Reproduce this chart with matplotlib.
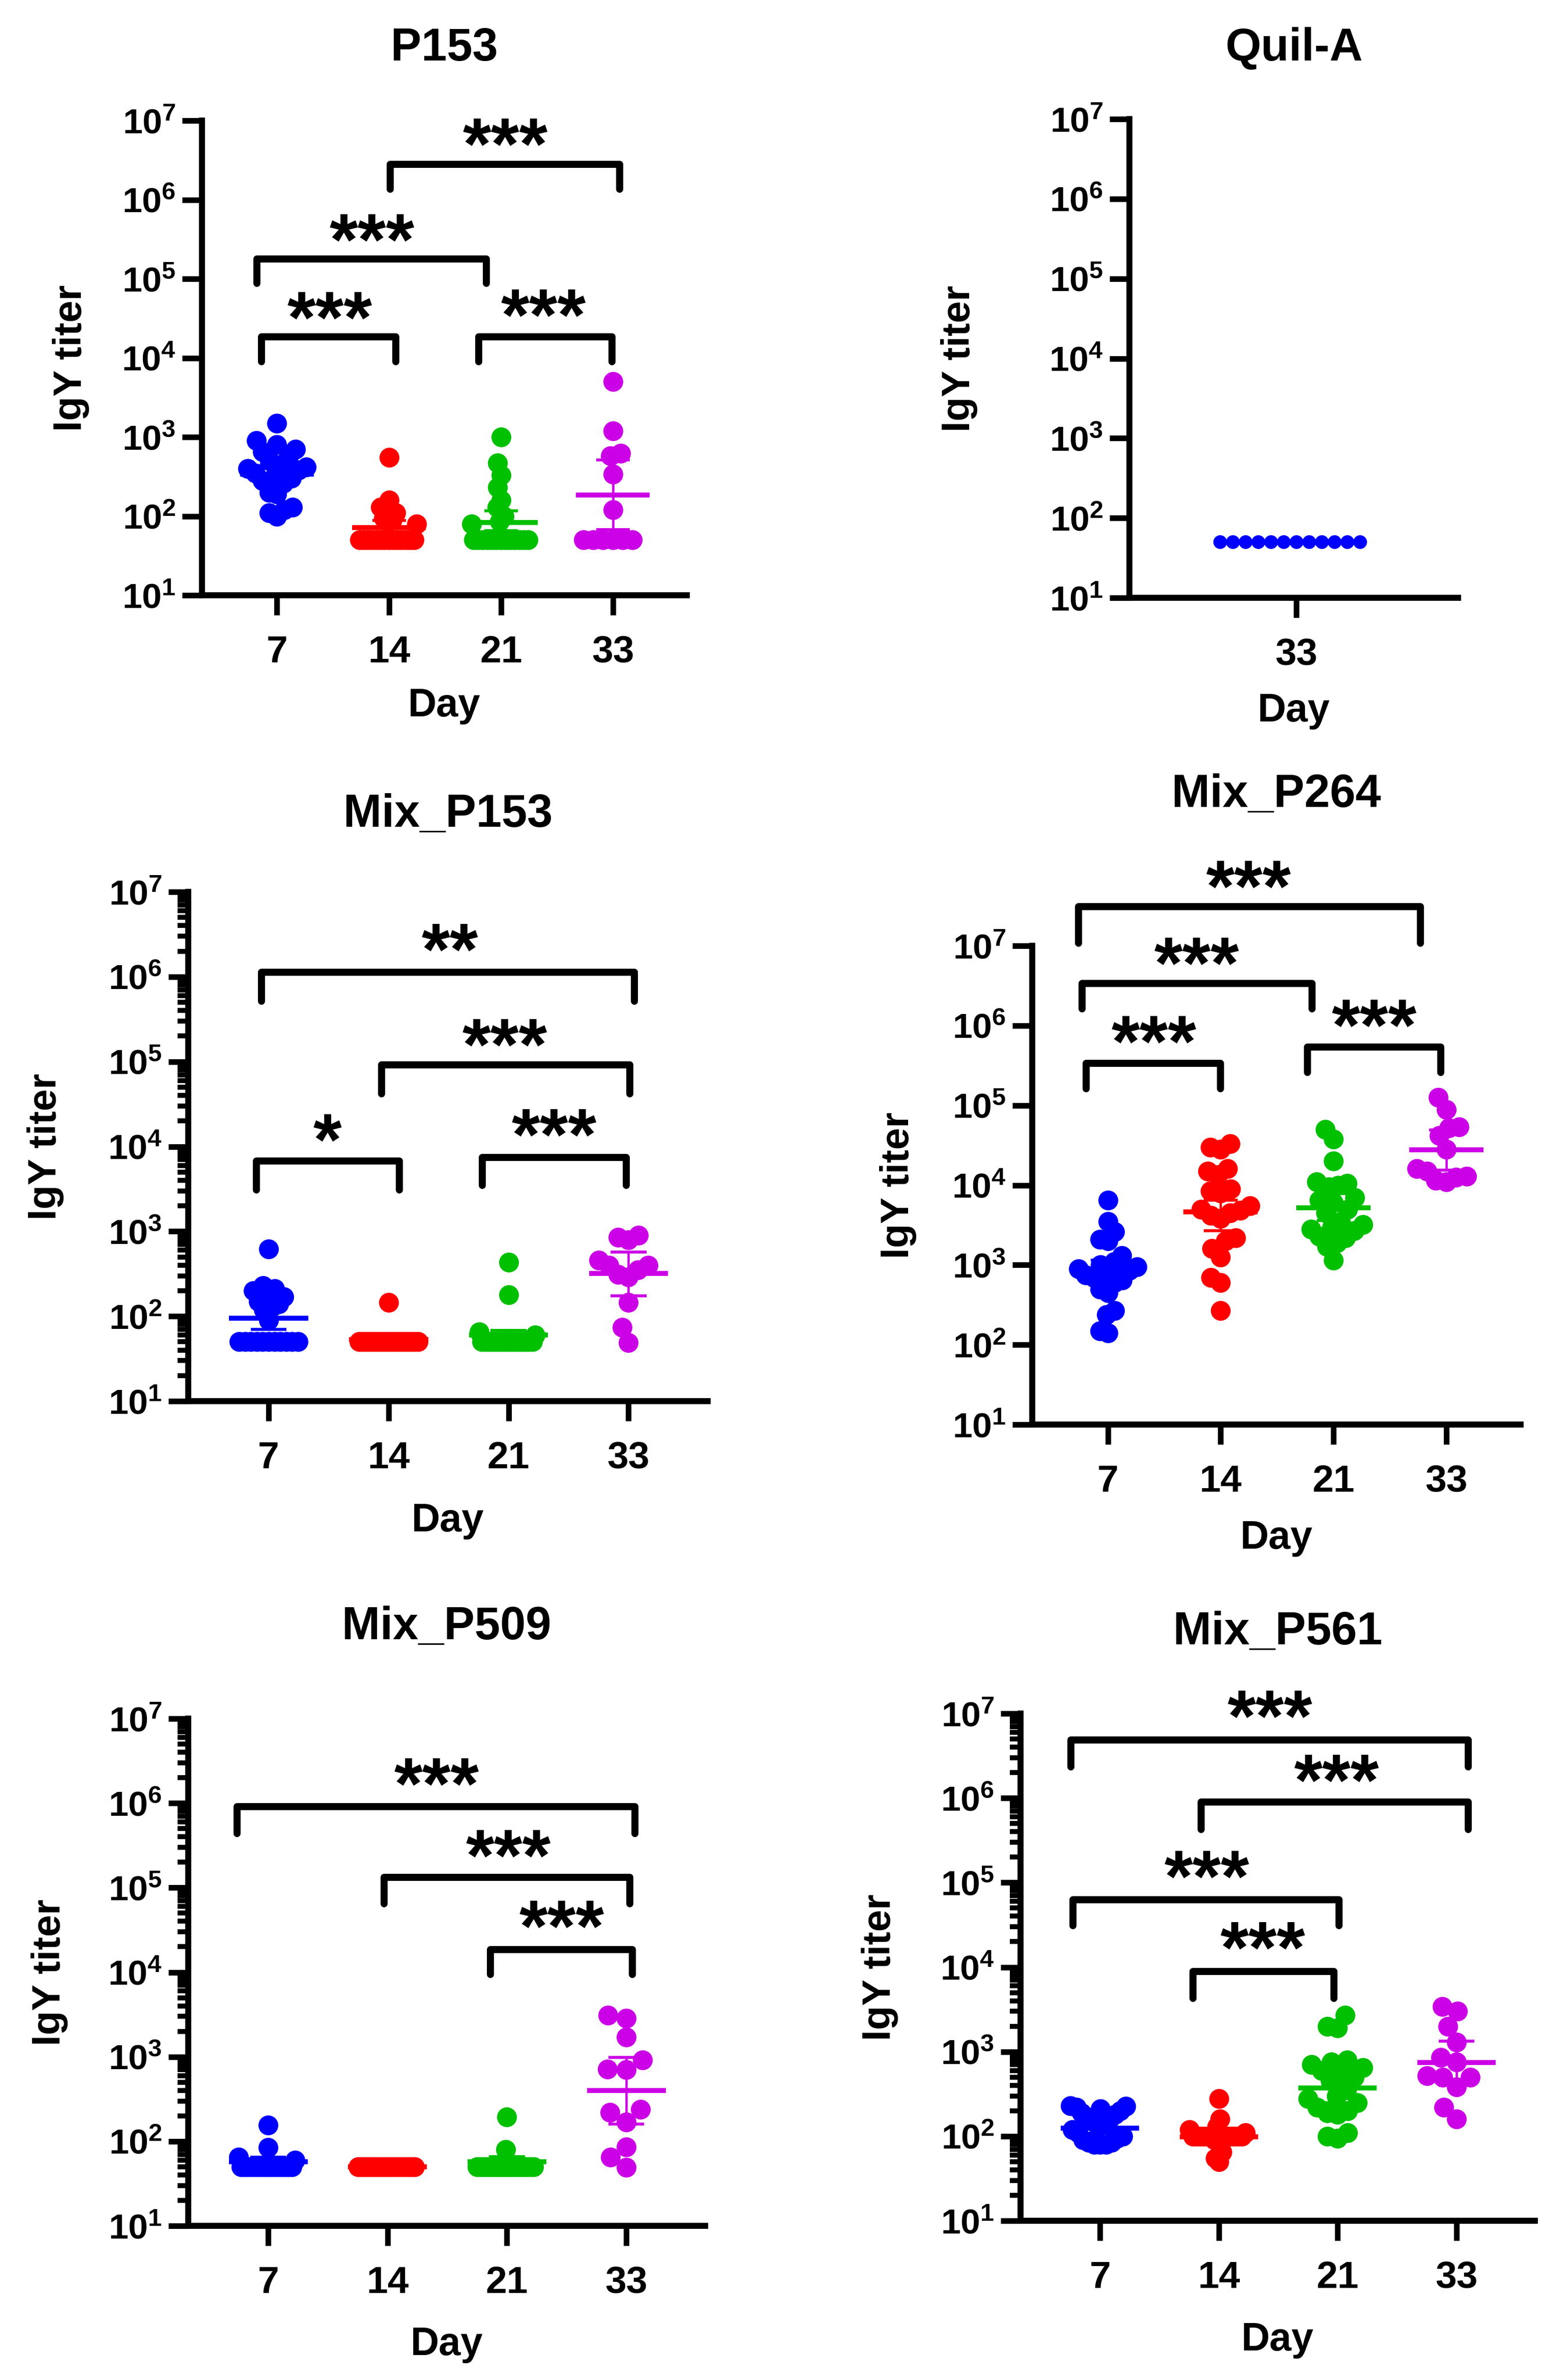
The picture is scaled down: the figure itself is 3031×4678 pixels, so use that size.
import numpy as np
import matplotlib
matplotlib.use('Agg')
import matplotlib.pyplot as plt
from matplotlib.ticker import FixedLocator, LogLocator, NullFormatter
from matplotlib.textpath import TextPath
from matplotlib.font_manager import FontProperties

plt.rcParams['font.family'] = ['Liberation Sans', 'DejaVu Sans']
plt.rcParams['font.weight'] = 'bold'
plt.rcParams['mathtext.fontset'] = 'custom'
plt.rcParams['mathtext.rm'] = 'Liberation Sans:bold'
plt.rcParams['mathtext.it'] = 'Liberation Sans:bold'
plt.rcParams['mathtext.bf'] = 'Liberation Sans:bold'

W, H, DPI = 3031, 4678, 100

days = ['7', '14', '21', '33']
colors = ['#0000FF', '#FF0000', '#00C000', '#CC00E6']

# --- IgY titres (one list per day) ---
p153_d7 = [1500, 900, 800, 700, 650, 550, 500, 450, 420, 400, 380, 350, 320, 300, 280, 260, 200, 190, 130, 120, 110, 100]
p153_d14 = [550, 160, 130, 110, 95, 90, 85, 80, 50, 50, 50, 50, 50, 50, 50, 50, 50, 50, 50, 50, 50, 50]
p153_d21 = [1000, 470, 330, 230, 160, 130, 100, 85, 80, 50, 50, 50, 50, 50, 50, 50, 50, 50, 50, 50, 50, 50]
p153_d33 = [5000, 1200, 620, 580, 340, 120, 50, 50, 50, 50, 50, 50]
p153_mean = [340, 72, 83, 185]
p153_lo = [265, 59, 66, 68]
p153_hi = [440, 88, 117, 510]

quil_d33 = [50, 50, 50, 50, 50, 50, 50, 50, 50, 50, 50, 50]

mp153_d7 = [620, 230, 210, 200, 180, 170, 150, 140, 130, 120, 90, 50, 50, 50, 50, 50, 50, 50, 50, 50, 50, 50]
mp153_d14 = [145, 50, 50, 50, 50, 50, 50, 50, 50, 50, 50, 50, 50, 50, 50, 50, 50, 50, 50, 50, 50, 50]
mp153_d21 = [430, 180, 65, 60, 50, 50, 50, 50, 50, 50, 50, 50, 50, 50, 50, 50, 50, 50, 50, 50, 50, 50]
mp153_d33 = [900, 850, 800, 460, 400, 400, 350, 310, 290, 145, 74, 49]
mp153_mean = [95, 53, 60, 320]
mp153_lo = [70, 50, 53, 175]
mp153_hi = [128, 57, 68, 570]

mp264_d7 = [6500, 3500, 2600, 2100, 2000, 1300, 1100, 1000, 950, 900, 850, 800, 750, 700, 650, 600, 500, 450, 270, 240, 150, 140]
mp264_d14 = [33000, 30000, 28000, 16000, 15000, 13500, 9000, 8500, 8000, 5500, 5000, 4800, 4500, 4200, 3800, 2200, 2000, 1600, 1250, 700, 600, 270]
mp264_d21 = [50000, 38000, 20000, 11000, 10500, 10000, 9500, 7000, 6500, 6000, 5000, 4500, 3500, 3200, 3000, 2800, 2700, 2300, 2200, 1900, 1700, 1150]
mp264_d33 = [126000, 89000, 54000, 52000, 42000, 28000, 16000, 15000, 13000, 12500, 11500, 11000]
mp264_mean = [850, 4600, 5200, 27700]
mp264_lo = [620, 2700, 3600, 15500]
mp264_hi = [1150, 6500, 7900, 49000]

mp509_d7 = [155, 85, 65, 60, 50, 50, 50, 50, 50, 50, 50, 50, 50, 50, 50, 50, 50, 50, 50, 50, 50, 50]
mp509_d14 = [50, 50, 50, 50, 50, 50, 50, 50, 50, 50, 50, 50, 50, 50, 50, 50, 50, 50, 50, 50, 50, 50]
mp509_d21 = [195, 80, 50, 50, 50, 50, 50, 50, 50, 50, 50, 50, 50, 50, 50, 50, 50, 50, 50, 50, 50, 50]
mp509_d33 = [3100, 2850, 1700, 910, 710, 700, 240, 220, 170, 86, 65, 49]
mp509_mean = [57, 50, 57, 400]
mp509_lo = [51, 50, 50, 160]
mp509_hi = [65, 50, 66, 980]

mp561_d7 = [230, 225, 220, 210, 200, 190, 180, 170, 160, 150, 140, 130, 120, 110, 100, 95, 90, 85, 85, 80, 80, 80]
mp561_d14 = [280, 160, 130, 120, 110, 100, 100, 100, 100, 100, 100, 100, 100, 100, 100, 100, 100, 90, 85, 65, 55, 50]
mp561_d21 = [2700, 2000, 1900, 800, 750, 700, 650, 600, 550, 500, 450, 350, 300, 280, 250, 220, 200, 190, 180, 110, 100, 95]
mp561_d33 = [3400, 3000, 2000, 1300, 850, 750, 520, 500, 500, 380, 220, 160]
mp561_mean = [125, 98, 370, 740]
mp561_lo = [108, 82, 250, 400]
mp561_hi = [145, 118, 560, 1330]

# significance brackets: (label, x start, x end, top, leg bottom, star x, star y) in category / log10 units
p153_sig = [('***', -0.14, 1.06, 4.27, 3.95, 0.47, 4.66),
            ('***', -0.18, 1.87, 5.25, 4.94, 0.85, 5.64),
            ('***', 1.80, 2.99, 4.27, 3.95, 2.38, 4.69),
            ('***', 1.01, 3.06, 6.45, 6.13, 2.04, 6.85)]
mp153_sig = [('*', -0.10, 1.09, 3.83, 3.49, 0.49, 4.22),
             ('***', 1.78, 2.98, 3.87, 3.54, 2.38, 4.28),
             ('***', 0.94, 3.01, 4.96, 4.62, 1.97, 5.34),
             ('**', -0.06, 3.05, 6.05, 5.71, 1.51, 6.46)]
mp264_sig = [('***', -0.19, 1.00, 5.53, 5.21, 0.41, 5.95),
             ('***', 1.77, 2.95, 5.73, 5.41, 2.36, 6.15),
             ('***', -0.23, 1.81, 6.53, 6.21, 0.79, 6.93),
             ('***', -0.26, 2.77, 7.49, 7.03, 1.25, 7.89)]
mp509_sig = [('***', -0.26, 3.07, 5.96, 5.64, 1.41, 6.37),
             ('***', 0.97, 3.03, 5.12, 4.81, 2.01, 5.52),
             ('***', 1.86, 3.05, 4.27, 3.97, 2.46, 4.68)]
mp561_sig = [('***', -0.245, 3.10, 6.69, 6.37, 1.43, 7.11),
             ('***', 0.85, 3.10, 5.95, 5.63, 1.99, 6.35),
             ('***', -0.23, 2.01, 4.80, 4.49, 0.90, 5.21),
             ('***', 0.78, 1.97, 3.95, 3.63, 1.37, 4.37)]

# panel layout in pixels: axes (left, top, right, bottom), title y, ylabel x, "Day" y
panels = [
    dict(title='P153', groups=[p153_d7, p153_d14, p153_d21, p153_d33], labels=days,
         mean=p153_mean, lo=p153_lo, hi=p153_hi, sig=p153_sig,
         box=(397, 237, 1350, 1170), xlim=(-0.67, 3.66), title_y=87, ylab_x=140, day_y=1380),
    dict(title='Quil-A', groups=[quil_d33], labels=['33'], cols=[colors[0]],
         mean=None, lo=None, hi=None, sig=[], ms=27, half=150,
         box=(2220, 234, 2866, 1175), xlim=(-1.0, 0.97), title_y=87, ylab_x=1885, day_y=1390),
    dict(title='Mix_P153', groups=[mp153_d7, mp153_d14, mp153_d21, mp153_d33], labels=days,
         mean=mp153_mean, lo=mp153_lo, hi=mp153_hi, sig=mp153_sig,
         box=(370, 1753, 1391, 2754), xlim=(-0.67, 3.66), title_y=1593, ylab_x=90, day_y=2982),
    dict(title='Mix_P264', groups=[mp264_d7, mp264_d14, mp264_d21, mp264_d33], labels=days,
         mean=mp264_mean, lo=mp264_lo, hi=mp264_hi, sig=mp264_sig,
         box=(2029, 1859, 2989, 2800), xlim=(-0.67, 3.66), title_y=1554, ylab_x=1766, day_y=3016),
    dict(title='Mix_P509', groups=[mp509_d7, mp509_d14, mp509_d21, mp509_d33], labels=days,
         mean=mp509_mean, lo=mp509_lo, hi=mp509_hi, sig=mp509_sig,
         box=(370, 3378, 1386, 4375), xlim=(-0.67, 3.66), title_y=3190, ylab_x=98, day_y=4601),
    dict(title='Mix_P561', groups=[mp561_d7, mp561_d14, mp561_d21, mp561_d33], labels=days,
         mean=mp561_mean, lo=mp561_lo, hi=mp561_hi, sig=mp561_sig,
         box=(2006, 3368, 3017, 4365), xlim=(-0.67, 3.66), title_y=3200, ylab_x=1729, day_y=4592),
]

PT = DPI / 72.0  # pixels per point

# asterisk size: three stars about 167 px wide; vertical offset puts the glyph centre on the target
star_prop = FontProperties(family='Liberation Sans', weight='bold')
ext3 = TextPath((0, 0), '***', size=1, prop=star_prop).get_extents()
STAR_FS = 167 / PT / ext3.width
ext1 = TextPath((0, 0), '*', size=1, prop=star_prop).get_extents()
STAR_DY = -(ext1.y0 + ext1.y1) / 2 * STAR_FS


def swarm(vals, ax_h, d, half_max):
    """Beeswarm x offsets (pixels) for log-scaled values, squeezed into +-half_max."""
    y = (np.log10(np.asarray(vals, float)) - 1) / 6 * ax_h
    xs = np.zeros(len(y))
    placed = []
    for i in np.argsort(y):
        cands = [0.0]
        for j in placed:
            dy = y[i] - y[j]
            if abs(dy) < d:
                dx = np.sqrt(d**2 - dy**2)
                cands += [xs[j] + dx, xs[j] - dx]
        cands = sorted(set(cands), key=lambda c: (abs(c), c))
        for c in cands:
            if all((c - xs[j])**2 + (y[i] - y[j])**2 >= d**2 - 1e-6 for j in placed):
                break
        xs[i] = c
        placed.append(i)
    m = np.max(np.abs(xs))
    if m > half_max:
        xs *= half_max / m
    return xs


fig = plt.figure(figsize=(W / DPI, H / DPI), dpi=DPI)

for p in panels:
    l, t, r, b = p['box']
    aw, ah = r - l, b - t
    ax = fig.add_axes([l / W, 1 - b / H, aw / W, ah / H])
    ax.set_yscale('log')
    ax.set_ylim(10, 1e7)
    ax.set_xlim(*p['xlim'])
    px_per_unit = aw / (p['xlim'][1] - p['xlim'][0])

    cols = p.get('cols', colors)
    ms = p.get('ms', 39)
    half = p.get('half', 58)
    for i, vals in enumerate(p['groups']):
        off = swarm(vals, ah, ms * 0.95, half) / px_per_unit
        ax.scatter(i + off, vals, s=(ms / PT)**2, color=cols[i], lw=0, zorder=3, clip_on=False)

    if p['mean'] is not None:
        for i in range(len(p['groups'])):
            c = cols[i]
            ax.plot([i - 0.33, i + 0.33], [p['mean'][i]] * 2, color=c, lw=7, solid_capstyle='butt', zorder=4)
            ax.plot([i, i], [p['lo'][i], p['hi'][i]], color=c, lw=3.3, zorder=4)
            for v in (p['lo'][i], p['hi'][i]):
                ax.plot([i - 0.15, i + 0.15], [v, v], color=c, lw=4.2, solid_capstyle='butt', zorder=4)

    for lab, x0, x1, top, bot, sx, sy in p['sig']:
        ax.plot([x0, x0, x1, x1], [10**bot, 10**top, 10**top, 10**bot], color='black', lw=10,
                solid_capstyle='round', solid_joinstyle='round', clip_on=False, zorder=5)
        ax.annotate(lab, xy=(sx, 10**sy), xytext=(0, STAR_DY), textcoords='offset points',
                    ha='center', va='baseline', fontsize=STAR_FS, fontproperties=star_prop,
                    annotation_clip=False)

    # axes styling
    for s in ('top', 'right'):
        ax.spines[s].set_visible(False)
    for s in ('left', 'bottom'):
        ax.spines[s].set_linewidth(8.5)
        ax.spines[s].set_capstyle('projecting')
    ax.yaxis.set_major_locator(FixedLocator([10.0**k for k in range(1, 8)]))
    ax.yaxis.set_major_formatter(plt.FuncFormatter(lambda v, pos: r'$10^{%d}$' % round(np.log10(v))))
    ax.yaxis.set_minor_locator(LogLocator(base=10, subs=np.arange(2, 10)))
    ax.yaxis.set_minor_formatter(NullFormatter())
    ax.tick_params(axis='y', which='major', length=28, width=8, labelsize=50, pad=9)
    ax.tick_params(axis='y', which='minor', length=15, width=7)
    ax.set_xticks(range(len(p['labels'])))
    ax.set_xticklabels(p['labels'], fontsize=54, fontweight='bold')
    ax.tick_params(axis='x', length=28, width=8, pad=28)

    ax.set_ylabel('IgY titer', fontsize=56, fontweight='bold', va='center')
    ax.yaxis.set_label_coords((p['ylab_x'] - l) / aw, 0.5)
    ax.set_xlabel('Day', fontsize=56, fontweight='bold', va='baseline')
    ax.xaxis.set_label_coords(0.5, -(p['day_y'] + 0.358 * 56 * PT - b) / ah)

    fig.text((l + r) / 2 / W, 1 - (p['title_y'] + 0.358 * 65 * PT) / H, p['title'],
             ha='center', va='baseline', fontsize=65, fontweight='bold')

fig.savefig('out.png', dpi=DPI)
